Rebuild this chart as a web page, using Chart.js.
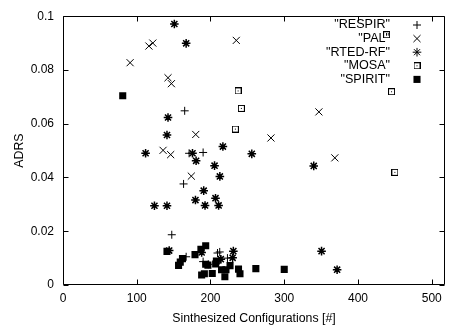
<!DOCTYPE html>
<html>
<head>
<meta charset="utf-8">
<script src="https://cdn.jsdelivr.net/npm/chart.js@4"></script>
<style>
html,body{margin:0;padding:0;background:#fff;}
#wrap{position:relative;width:451px;height:326px;}
</style>
</head>
<body>
<div id="wrap"><canvas id="c" width="451" height="326"></canvas></div>
<script>
// ---- data ----
const seriesNames = ['"RESPIR"', '"PAL"', '"RTED-RF"', '"MOSA"', '"SPIRIT"'];

const respirX = [165, 171, 190, 163.5, 147.5, 167, 190, 197, 209.5, 214, 223, 212.5];
const respirY = [0.0648, 0.0490, 0.0493, 0.0376, 0.0187, 0.0105, 0.0087, 0.0077, 0.0119, 0.0095, 0.0100, 0.0123];

const palX = [91, 116.5, 121.8, 235, 142.4, 147, 180, 282, 135.7, 146, 174, 347, 368.6];
const palY = [0.0827, 0.0889, 0.0900, 0.0910, 0.0771, 0.0749, 0.0560, 0.0547, 0.0501, 0.0485, 0.0405, 0.0644, 0.0473];

const rtedX = [151, 167, 142.4, 141, 112, 175.6, 216.8, 256, 180.5, 205.5, 212.7, 190.8, 179.6, 206.8, 192.6, 211, 124, 141, 340, 350.6, 371.7, 144, 188, 231, 230, 214];
const rtedY = [0.0971, 0.0899, 0.0623, 0.0558, 0.0490, 0.0490, 0.0515, 0.0488, 0.0462, 0.0444, 0.0404, 0.0351, 0.0316, 0.0323, 0.0296, 0.0296, 0.0295, 0.0295, 0.0443, 0.0126, 0.0057, 0.0128, 0.0121, 0.0126, 0.0101, 0.0096];

const mosaX = [438.8, 237.4, 241.8, 233.7, 445.5, 450];
const mosaY = [0.0931, 0.0722, 0.0657, 0.0580, 0.0719, 0.0419];

const spiritX = [81, 141, 156.7, 159, 162, 179, 187, 193.5, 193.5, 196.5, 207, 208, 226.5, 215, 221, 219.5, 238, 240, 261.5, 300, 188, 191.7, 202.4];
const spiritY = [0.0704, 0.0125, 0.0073, 0.0085, 0.0098, 0.0113, 0.0133, 0.0146, 0.0077, 0.0074, 0.0078, 0.0089, 0.0072, 0.0057, 0.0057, 0.0031, 0.0059, 0.0042, 0.0061, 0.0058, 0.0037, 0.0042, 0.0043];

const xTicks = [0, 100, 200, 300, 400, 500];
const yTicks = [0, 0.02, 0.04, 0.06, 0.08, 0.1];
const yTickLabels = ['0', '0.02', '0.04', '0.06', '0.08', '0.1'];
const xTitle = 'Sinthesized Configurations [#]';
const yTitle = 'ADRS';

// ---- point style for MOSA: open square with a centre dot ----
function mosaMarker() {
  const c = document.createElement('canvas');
  c.width = 7; c.height = 7;
  const g = c.getContext('2d');
  g.strokeStyle = '#000'; g.lineWidth = 1;
  g.strokeRect(0.5, 0.5, 6, 6);
  g.fillStyle = '#000';
  g.fillRect(3, 3, 1, 1);
  return c;
}
const mosaImg = mosaMarker();

function pts(xs, ys) { return xs.map((x, i) => ({ x: x, y: ys[i] })); }

const FONT = "'Liberation Sans', Arial, Helvetica, sans-serif";
Chart.defaults.font.family = FONT;
Chart.defaults.font.size = 12;
Chart.defaults.color = '#000';

const styles = [
  { pointStyle: 'cross', pointRadius: 4, borderWidth: 1 },
  { pointStyle: 'crossRot', pointRadius: 5, borderWidth: 1 },
  { pointStyle: 'star', pointRadius: 4.3, borderWidth: 1.5 },
  { pointStyle: mosaImg, pointRadius: 4, borderWidth: 1 },
  { pointStyle: 'rect', pointRadius: 5, borderWidth: 0 }
];

const datasets = [
  pts(respirX, respirY), pts(palX, palY), pts(rtedX, rtedY), pts(mosaX, mosaY), pts(spiritX, spiritY)
].map((d, i) => ({
  label: seriesNames[i],
  data: d,
  showLine: false,
  pointStyle: styles[i].pointStyle,
  pointRadius: styles[i].pointRadius,
  pointHoverRadius: styles[i].pointRadius,
  pointBorderWidth: styles[i].borderWidth,
  borderColor: '#000',
  backgroundColor: '#000',
  pointBackgroundColor: '#000',
  pointBorderColor: '#000'
}));

// frame, inward ticks on all four sides, gnuplot-style key
const framePlugin = {
  id: 'frame',
  afterDraw(chart) {
    const ctx = chart.ctx;
    const a = chart.chartArea;
    const xs = chart.scales.x, ys = chart.scales.y;
    const L = Math.round(a.left) + 0.5, R = Math.round(a.right) - 0.5;
    const T = Math.round(a.top) + 0.5, B = Math.round(a.bottom) - 0.5;
    ctx.save();
    ctx.strokeStyle = '#000';
    ctx.lineWidth = 1;
    ctx.beginPath();
    const tl = 5;
    xTicks.forEach(v => {
      const px = Math.round(xs.getPixelForValue(v)) + 0.5;
      ctx.moveTo(px, B); ctx.lineTo(px, B - tl);
      ctx.moveTo(px, T); ctx.lineTo(px, T + tl);
    });
    yTicks.forEach(v => {
      const py = Math.round(ys.getPixelForValue(v)) + 0.5;
      ctx.moveTo(L, py); ctx.lineTo(L + tl, py);
      ctx.moveTo(R, py); ctx.lineTo(R - tl, py);
    });
    ctx.stroke();
    ctx.beginPath();
    ctx.rect(L, T, R - L, B - T);
    ctx.stroke();

    // key
    const textRight = 390, symX = 417, rowY0 = 25, rowStep = 13.6;
    ctx.font = '12.6px ' + FONT;
    ctx.textAlign = 'right';
    ctx.textBaseline = 'middle';
    ctx.fillStyle = '#000';
    chart.data.datasets.forEach((ds, i) => {
      const y = rowY0 + i * rowStep;
      ctx.fillText(ds.label, textRight, y);
      ctx.fillStyle = '#000';
      ctx.strokeStyle = '#000';
      Chart.helpers.drawPoint(ctx, {
        pointStyle: ds.pointStyle,
        radius: ds.pointRadius,
        borderWidth: ds.pointBorderWidth,
        rotation: 0
      }, symX, y);
    });
    ctx.restore();
  }
};

new Chart(document.getElementById('c'), {
  type: 'scatter',
  data: { datasets: datasets },
  options: {
    responsive: false,
    animation: false,
    layout: { padding: { top: 15, right: 2, left: 0, bottom: 0 } },
    plugins: { legend: { display: false }, tooltip: { enabled: false } },
    scales: {
      x: {
        type: 'linear',
        min: 0, max: 518,
        afterBuildTicks: s => { s.ticks = xTicks.map(v => ({ value: v })); },
        afterFit: s => { s.height = 41; },
        grid: { display: false, drawTicks: false },
        border: { display: false },
        ticks: { padding: 6, color: '#000', font: { size: 12 } },
        title: { display: true, text: xTitle, color: '#000', font: { size: 12.3 }, padding: { top: 0, bottom: 0 } }
      },
      y: {
        type: 'linear',
        min: 0, max: 0.1,
        afterBuildTicks: s => { s.ticks = yTicks.map(v => ({ value: v })); },
        afterFit: s => { s.width = 63; },
        grid: { display: false, drawTicks: false },
        border: { display: false },
        ticks: { padding: 9, color: '#000', font: { size: 12 },
          callback: (v) => { const i = yTicks.findIndex(t => Math.abs(t - v) < 1e-9); return i >= 0 ? yTickLabels[i] : ''; } },
        title: { display: true, text: yTitle, color: '#000', font: { size: 12.3 }, padding: { top: 12, bottom: 0 } }
      }
    }
  },
  plugins: [framePlugin]
});
</script>
</body>
</html>
